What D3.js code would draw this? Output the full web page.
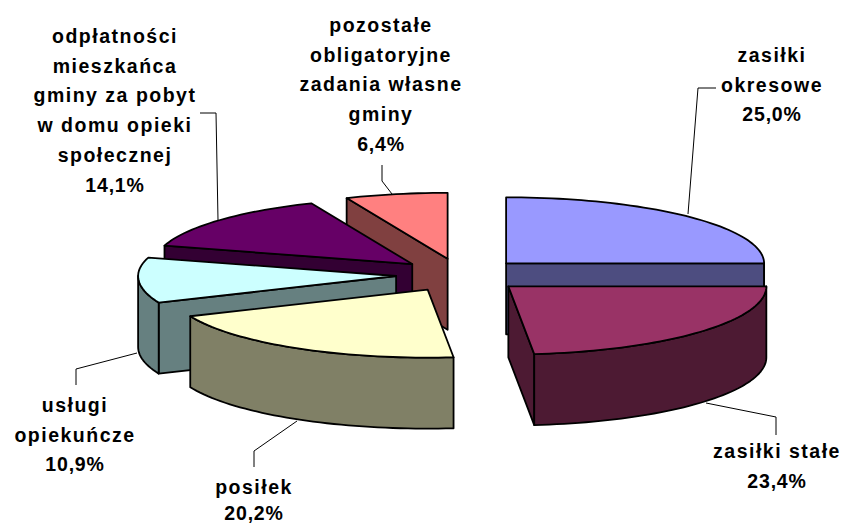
<!DOCTYPE html>
<html>
<head>
<meta charset="utf-8">
<script src="https://cdn.jsdelivr.net/npm/d3@7"></script>
<style>
	html, body { margin: 0; background: #fff; }
	svg { display: block; }
	.label { font: bold 19.5px "Liberation Sans", Arial, sans-serif; letter-spacing: 1.5px; fill: #000; text-anchor: middle; }
	.label .pct { letter-spacing: 0.8px; }
	.leader { fill: none; stroke: #000; stroke-width: 1; }
	.face { stroke: #000; stroke-width: 1.8; stroke-linejoin: round; }
</style>
</head>
<body>
<svg></svg>
<script>
const categories = [
	['zasiłki', 'okresowe'],
	['zasiłki stałe'],
	['posiłek'],
	['usługi', 'opiekuńcze'],
	['odpłatności', 'mieszkańca', 'gminy za pobyt', 'w domu opieki', 'społecznej'],
	['pozostałe', 'obligatoryjne', 'zadania własne', 'gminy'],
];
const values = [25.0, 23.4, 20.2, 10.9, 14.1, 6.4];
const topColors = ['#9999ff', '#993366', '#ffffcc', '#ccffff', '#660066', '#ff8080'];
const drawOrder = [5, 4, 3, 2, 0, 1];

const width = 843;
const height = 523;
const center = { x: 460.5, y: 275 };
const radius = { x: 258, front: 68, back: 66 };
const depth = 71;
const explode = 0.25;
const lineHeight = 29.7;

// label anchor (centre, first baseline) and leader line for each slice
const labelLayout = [
	{ x: 772, y: 62, leader: [[716, 88], [698, 88], [688, 214]] },
	{ x: 777, y: 458, leader: [[706, 403], [776, 417], [776, 435]] },
	{ x: 254, y: 494, lineStep: 25.5, leader: [[297, 421], [254, 451], [254, 467]] },
	{ x: 75, y: 412, leader: [[137, 353], [76, 369], [76, 385]] },
	{ x: 115, y: 43, leader: [[200, 113], [216, 113], [218, 220]] },
	{ x: 381, y: 32, leader: [[382, 165], [382, 181], [392, 194]] },
];

const svg = d3.select('svg')
		.attr('width', width)
		.attr('height', height);

const xScale = d3.scaleLinear()
	.domain([-1, 1])
	.range([center.x - radius.x, center.x + radius.x]);
// the far half of the ellipse is a little flatter than the near half
const yScale = d3.scaleLinear()
	.domain([-1, 0, 1])
	.range([center.y + radius.front, center.y, center.y - radius.back]);

const arcs = d3.pie().sort(null)(values);
const line = d3.line();

// ground plane position of a slice point: angle clockwise from 12 o'clock
function project(slice, angle, r) {
	const mid = (slice.startAngle + slice.endAngle) / 2;
	return [
		xScale(explode * Math.sin(mid) + r * Math.sin(angle)),
		yScale(explode * Math.cos(mid) + r * Math.cos(angle)),
	];
}
function arcPoints(slice, from, to) {
	const n = Math.max(2, Math.ceil((to - from) / 0.03));
	return d3.range(n + 1).map(i => project(slice, from + (to - from) * i / n, 1));
}
const drop = p => [p[0], p[1] + depth];

function sideColor(color) {
	const c = d3.rgb(color);
	return d3.rgb(c.r / 2, c.g / 2, c.b / 2).formatHex();
}
function radialFace(slice, angle) {
	const a = project(slice, angle, 0);
	const b = project(slice, angle, 1);
	return [a, b, drop(b), drop(a)];
}

drawOrder.forEach(i => {
	const slice = arcs[i];
	const g = svg.append('g').attr('class', 'slice');
	const side = sideColor(topColors[i]);
	const a0 = slice.startAngle;
	const a1 = slice.endAngle;

	// start edge faces the viewer on the left half, end edge on the right half
	if (a0 > Math.PI && a0 < 2 * Math.PI) {
		g.append('path').attr('class', 'face')
			.attr('fill', side)
			.attr('d', line(radialFace(slice, a0)) + 'Z');
	}
	if (a1 > 0 && a1 < Math.PI) {
		g.append('path').attr('class', 'face')
			.attr('fill', side)
			.attr('d', line(radialFace(slice, a1)) + 'Z');
	}

	// outer wall, only the front half of the ellipse
	const wallFrom = Math.max(a0, Math.PI / 2);
	const wallTo = Math.min(a1, 3 * Math.PI / 2);
	if (wallFrom < wallTo) {
		const rim = arcPoints(slice, wallFrom, wallTo);
		g.append('path').attr('class', 'face')
			.attr('fill', side)
			.attr('d', line(rim.concat(rim.map(drop).reverse())) + 'Z');
	}

	const top = [project(slice, a0, 0)].concat(arcPoints(slice, a0, a1));
	g.append('path').attr('class', 'face')
		.attr('fill', topColors[i])
		.attr('d', line(top) + 'Z');
});

svg.selectAll('path.leader')
	.data(labelLayout)
	.enter().append('path')
		.attr('class', 'leader')
		.attr('d', d => line(d.leader));

const format = d => d.toFixed(1).replace('.', ',') + '%';

const labels = svg.selectAll('text.label')
	.data(categories)
	.enter().append('text')
		.attr('class', 'label');

labels.selectAll('tspan')
	.data((d, i) => d.map(t => ({ t, layout: labelLayout[i] }))
		.concat({ t: format(values[i]), layout: labelLayout[i], pct: true }))
	.enter().append('tspan')
		.classed('pct', d => d.pct)
		.attr('x', d => d.layout.x)
		.attr('y', (d, i) => d.layout.y + i * (d.layout.lineStep || lineHeight))
		.text(d => d.t);
</script>
</body>
</html>
